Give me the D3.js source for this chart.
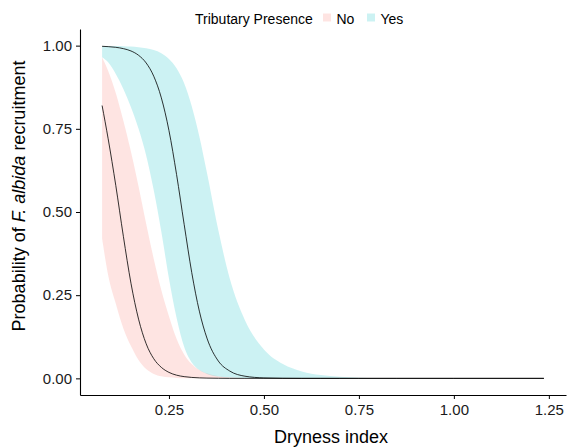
<!DOCTYPE html>
<html>
<head>
<meta charset="utf-8">
<script src="https://cdn.jsdelivr.net/npm/d3@7"></script>
<style>
  body { margin: 0; background: #fff; }
  svg { font-family: "Liberation Sans", Arial, sans-serif; }
</style>
</head>
<body>
<div id="chart"></div>
<script>
// --------- Data --------- //
var dryness = [0.074, 0.09, 0.11, 0.13, 0.15, 0.17, 0.19, 0.21, 0.23, 0.25, 0.27, 0.29, 0.31, 0.33,
               0.35, 0.38, 0.41, 0.45, 0.50, 0.55, 0.60, 0.65, 0.70, 0.75, 0.85, 1.00, 1.237];

var noFit   = [0.82, 0.72, 0.58, 0.427, 0.286, 0.178, 0.104, 0.059, 0.033, 0.018, 0.0096, 0.0052, 0.0028, 0.0015,
               0.0008, 0.0003, 0, 0, 0, 0, 0, 0, 0, 0, 0, 0, 0];
var noLower = [0.42, 0.31, 0.225, 0.15, 0.097, 0.055, 0.028, 0.0134, 0.0064, 0.003, 0.0014, 0.0007, 0.0003, 0.0001,
               0, 0, 0, 0, 0, 0, 0, 0, 0, 0, 0, 0, 0];
var noUpper = [0.965, 0.924, 0.858, 0.774, 0.681, 0.577, 0.465, 0.359, 0.265, 0.187, 0.119, 0.072, 0.043, 0.025,
               0.015, 0.0067, 0.003, 0.001, 0.0003, 0, 0, 0, 0, 0, 0, 0, 0];

var yesFit   = [0.998, 0.997, 0.995, 0.991, 0.984, 0.971, 0.948, 0.908, 0.843, 0.745, 0.613, 0.463, 0.318, 0.202,
                0.121, 0.052, 0.022, 0.0065, 0.0014, 0.0003, 0, 0, 0, 0, 0, 0, 0];
var yesLower = [0.965, 0.95, 0.915, 0.87, 0.815, 0.75, 0.67, 0.565, 0.44, 0.30, 0.182, 0.095, 0.048, 0.025,
                0.0134, 0.0055, 0.0025, 0.0009, 0.0003, 0.0001, 0, 0, 0, 0, 0, 0, 0];
var yesUpper = [0.999, 0.999, 0.9988, 0.9983, 0.9973, 0.9955, 0.9923, 0.9866, 0.977, 0.96, 0.932, 0.887, 0.818, 0.727,
                0.618, 0.445, 0.30, 0.175, 0.087, 0.043, 0.021, 0.010, 0.0047, 0.0022, 0.0005, 0.0001, 0];

var groups = ["No", "Yes"];
var groupColors = ["#F8766D", "#00BFC4"];
var xTicks = [0.25, 0.50, 0.75, 1.00, 1.25];
var yTicks = [0.00, 0.25, 0.50, 0.75, 1.00];
// --------- /Data --------- //

var width = 570, height = 447;
var panel = {left: 80, right: 566, top: 29, bottom: 395};

var svg = d3.select("#chart").append("svg")
  .attr("width", width)
  .attr("height", height);

// ggplot-style 5% expansion
var xExt = d3.extent(dryness);
var xPad = (xExt[1] - xExt[0]) * 0.05;
var x = d3.scaleLinear().domain([xExt[0] - xPad, xExt[1] + xPad]).range([panel.left, panel.right]);
var y = d3.scaleLinear().domain([-0.05, 1.05]).range([panel.bottom, panel.top]);

var series = [
  {name: "No", fit: noFit, lo: noLower, hi: noUpper},
  {name: "Yes", fit: yesFit, lo: yesLower, hi: yesUpper}
];
var color = d3.scaleOrdinal().domain(groups).range(groupColors);

var area = d3.area()
  .x(function(d){ return x(d.x); })
  .y0(function(d){ return y(d.lo); })
  .y1(function(d){ return y(d.hi); })
  .curve(d3.curveMonotoneX);

var line = d3.line()
  .x(function(d){ return x(d.x); })
  .y(function(d){ return y(d.fit); })
  .curve(d3.curveMonotoneX);

function rows(s){
  return dryness.map(function(v, i){
    return {x: v, fit: s.fit[i], lo: s.lo[i], hi: s.hi[i]};
  });
}

// ribbons
svg.append("g").selectAll("path")
  .data(series)
  .enter().append("path")
  .attr("d", function(s){ return area(rows(s)); })
  .attr("fill", function(s){ return color(s.name); })
  .attr("fill-opacity", 0.2);

// fitted lines
svg.append("g").selectAll("path")
  .data(series)
  .enter().append("path")
  .attr("d", function(s){ return line(rows(s)); })
  .attr("fill", "none")
  .attr("stroke", "#000")
  .attr("stroke-width", 0.8);

// axes
var xAxis = svg.append("g")
  .attr("transform", "translate(0," + panel.bottom + ")")
  .call(d3.axisBottom(x).tickValues(xTicks).tickFormat(d3.format(".2f")).tickSize(4).tickPadding(5).tickSizeOuter(0));
var yAxis = svg.append("g")
  .attr("transform", "translate(" + panel.left + ",0)")
  .call(d3.axisLeft(y).tickValues(yTicks).tickFormat(d3.format(".2f")).tickSize(4).tickPadding(4).tickSizeOuter(0));

[xAxis, yAxis].forEach(function(g){
  g.select(".domain").attr("stroke", "#000").attr("stroke-width", 1.1);
  g.selectAll(".tick line").attr("stroke", "#000").attr("stroke-width", 1);
  g.selectAll(".tick text").attr("fill", "#1a1a1a").style("font-size", "15px");
});

// axis titles
svg.append("text")
  .attr("x", 331).attr("y", 443)
  .attr("text-anchor", "middle")
  .style("font-size", "18px")
  .attr("fill", "#000")
  .text("Dryness index");

var yTitle = svg.append("text")
  .attr("transform", "translate(25,196) rotate(-90)")
  .attr("text-anchor", "middle")
  .style("font-size", "18px")
  .attr("fill", "#000");
yTitle.append("tspan").text("Probability of ");
yTitle.append("tspan").style("font-style", "italic").text("F. albida");
yTitle.append("tspan").text(" recruitment");

// legend
var legend = svg.append("g");
legend.append("text")
  .attr("x", 195).attr("y", 24)
  .style("font-size", "14px")
  .attr("fill", "#000")
  .text("Tributary Presence");

var keyX = [323, 367];
groups.forEach(function(g, i){
  legend.append("rect")
    .attr("x", keyX[i]).attr("y", 13.5)
    .attr("width", 8).attr("height", 8)
    .attr("fill", color(g))
    .attr("fill-opacity", 0.2);
  legend.append("text")
    .attr("x", keyX[i] + 13.5).attr("y", 24)
    .style("font-size", "14px")
    .attr("fill", "#000")
    .text(g);
});
</script>
</body>
</html>
